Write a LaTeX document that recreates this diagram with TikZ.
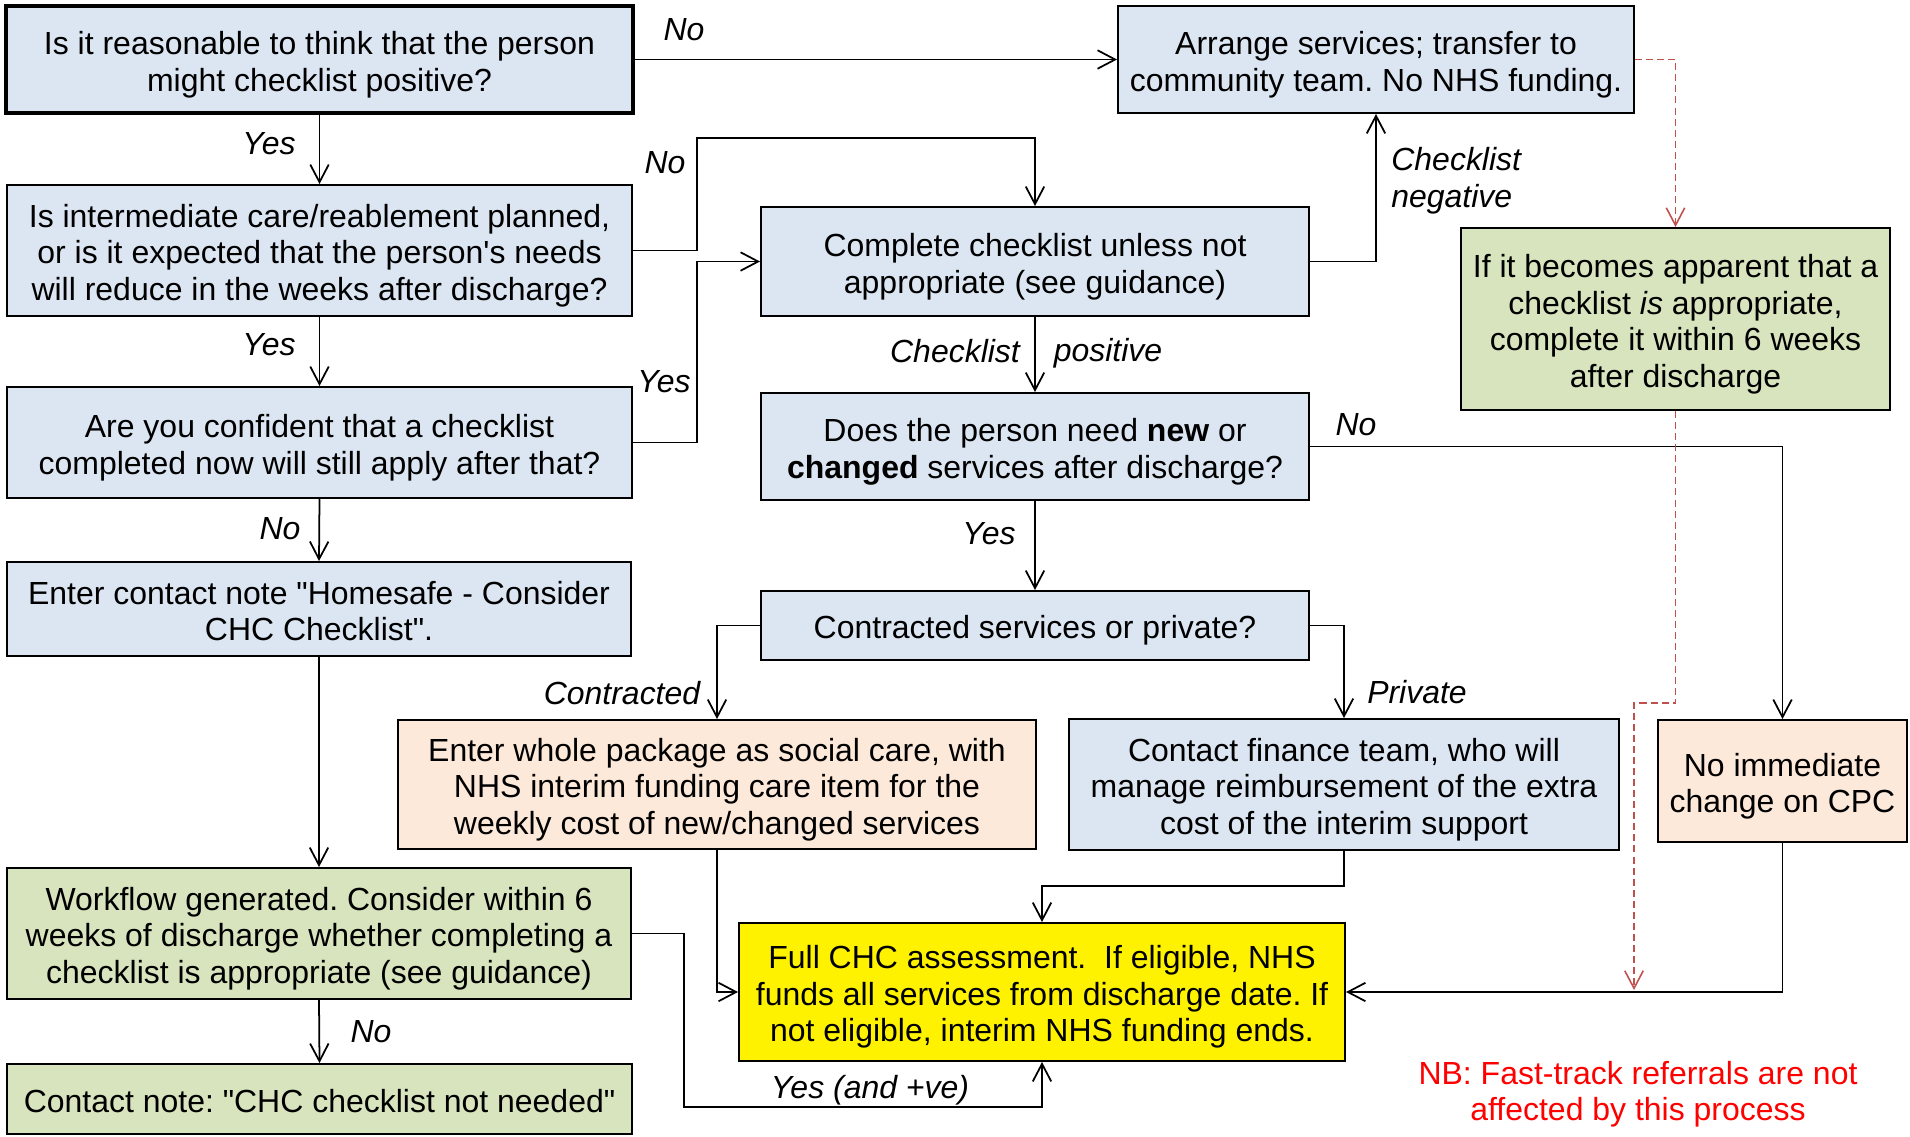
\documentclass[tikz,border=0pt]{standalone}
\usepackage{fontspec}
\setmainfont{Liberation Sans}[Ligatures=TeXOff]
\usetikzlibrary{arrows.meta}
\definecolor{boxblue}{HTML}{DCE6F2}
\definecolor{boxgreen}{HTML}{D7E4BD}
\definecolor{boxpeach}{HTML}{FDE9D9}
\definecolor{dashred}{HTML}{C0504D}
\frenchspacing
\newcommand{\pxu}{0.02cm}
\newcommand{\topstrut}{\rule{0pt}{1.06em}}
\newcommand{\botstrut}{\rule[-0.22em]{0pt}{0.22em}}
\newcommand{\flowbox}[7]{\node[#2, minimum width=#5*\pxu, minimum height=#6*\pxu] (#1) at (#3,#4) {\topstrut#7\botstrut};}
\tikzset{
  box/.style={draw, line width=1.1pt, align=center, inner sep=0pt, font=\fontsize{18.2}{20.8}\selectfont},
  bluebox/.style={box, fill=boxblue},
  greenbox/.style={box, fill=boxgreen},
  peachbox/.style={box, fill=boxpeach},
  yellowbox/.style={box, fill=yellow},
  arr/.style={-{Straight Barb[length=10pt,width=10.5pt]}, line width=1pt},
  redarr/.style={arr, dashred, line width=0.9pt, dash pattern=on 4pt off 2.3pt},
  lbl/.style={inner sep=0pt, font=\fontsize{18.2}{20.8}\selectfont\itshape},
}

\begin{document}
\begin{tikzpicture}[x=0.02cm, y=-0.02cm]
        \useasboundingbox (0,0) rectangle (1910,1136);
        % left column
        \flowbox{reason}{bluebox, line width=2.3pt}{319.5}{59.5}{627}{107}{Is it reasonable to think that the person\\might checklist positive?}
        \flowbox{interm}{bluebox}{319.5}{250.5}{625}{131}{Is intermediate care/reablement planned,\\or is it expected that the person's needs\\will reduce in the weeks after discharge?}
        \flowbox{confid}{bluebox}{319.5}{442.5}{625}{111}{Are you confident that a checklist\\completed now will still apply after that?}
        \flowbox{contnote}{bluebox}{319}{609}{624}{94}{Enter contact note "Homesafe - Consider\\CHC Checklist".}
        \flowbox{workflow}{greenbox}{319}{933.5}{624}{131}{Workflow generated. Consider within 6\\weeks of discharge whether completing a\\checklist is appropriate (see guidance)}
        \flowbox{notneeded}{greenbox}{319.5}{1099}{625}{70}{Contact note: "CHC checklist not needed"}
        % middle column
        \flowbox{complete}{bluebox}{1035}{261.5}{548}{109}{Complete checklist unless not\\appropriate (see guidance)}
        \flowbox{needs}{bluebox}{1035}{446.5}{548}{107}{Does the person need \textbf{new} or\\\textbf{changed} services after discharge?}
        \flowbox{contpriv}{bluebox}{1035}{625.5}{548}{69}{Contracted services or private?}
        \flowbox{package}{peachbox}{717}{784.5}{638}{129}{Enter whole package as social care, with\\NHS interim funding care item for the\\weekly cost of new/changed services}
        \flowbox{finance}{bluebox}{1344}{784.5}{550}{131}{Contact finance team, who will\\manage reimbursement of the extra\\cost of the interim support}
        \flowbox{fullchc}{yellowbox}{1042}{992}{606}{138}{Full CHC assessment.\ \ If eligible, NHS\\funds all services from discharge date. If\\not eligible, interim NHS funding ends.}
        % right column
        \flowbox{arrange}{bluebox}{1376}{59.5}{516}{107}{Arrange services; transfer to\\community team. No NHS funding.}
        \flowbox{apparent}{greenbox}{1675.5}{319}{429}{182}{If it becomes apparent that a\\checklist \textit{is} appropriate,\\complete it within 6 weeks\\after discharge}
        \flowbox{nochange}{peachbox}{1782.5}{781}{249}{122}{No immediate\\change on CPC}
        \node[inner sep=0pt, align=center, text=red, font=\fontsize{18.2}{20.8}\selectfont] (nbnote) at (1638,1094) {NB: Fast-track referrals are not\\affected by this process};
        % connectors
        \draw[arr] (reason.east) -- (arrange.west);
        \draw[arr] (reason.south) -- (interm.north);
        \draw[arr] (interm.east) -| (697,138) -| (complete.north);
        \draw[arr] (interm.south) -- (confid.north);
        \draw[arr] (confid.east) -| (697,261.5) -- (complete.west);
        \draw[arr] (confid.south) -- (contnote.north);
        \draw[arr] (complete.east) -| (arrange.south);
        \draw[arr] (complete.south) -- (needs.north);
        \draw[arr] (needs.east) -| (nochange.north);
        \draw[arr] (needs.south) -- (contpriv.north);
        \draw[arr] (contpriv.west) -| (package.north);
        \draw[arr] (contpriv.east) -| (finance.north);
        \draw[arr] (contnote.south) -- (workflow.north);
        \draw[arr] (workflow.south) -- (notneeded.north);
        \draw[arr] (workflow.east) -| (684,1107) -| (fullchc.south);
        \draw[arr] (package.south) |- (fullchc.west);
        \draw[arr] (finance.south) -- ++(0,35) -| (fullchc.north);
        \draw[arr] (nochange.south) |- (fullchc.east);
        % dashed red
        \coordinate (redtip) at (1634,990);
        \draw[redarr] (arrange.east) -| (apparent.north);
        \draw[redarr] (apparent.south) -- ++(0,292) -| (redtip);
        % labels
        \node[lbl] (lno1) at (684,30) {No};
        \node[lbl] (lyes1) at (269,144) {Yes};
        \node[lbl] (lno2) at (665,163) {No};
        \node[lbl] (lyes2) at (269,345) {Yes};
        \node[lbl] (lyes3) at (664,382) {Yes};
        \node[lbl, align=left, anchor=west] (lneg) at (1391,181) {Checklist\\negative};
        \node[lbl] (lchk) at (955,351) {Checklist};
        \node[lbl] (lpos) at (1108,353) {positive};
        \node[lbl] (lno3) at (1356,425) {No};
        \node[lbl] (lyes4) at (989,534) {Yes};
        \node[lbl] (lno4) at (280,529) {No};
        \node[lbl] (lcontr) at (622,693) {Contracted};
        \node[lbl] (lpriv) at (1417,692) {Private};
        \node[lbl] (lno5) at (371,1032) {No};
        \node[lbl] (lyesve) at (870,1090) {Yes (and +ve)};
\end{tikzpicture}
\end{document}
